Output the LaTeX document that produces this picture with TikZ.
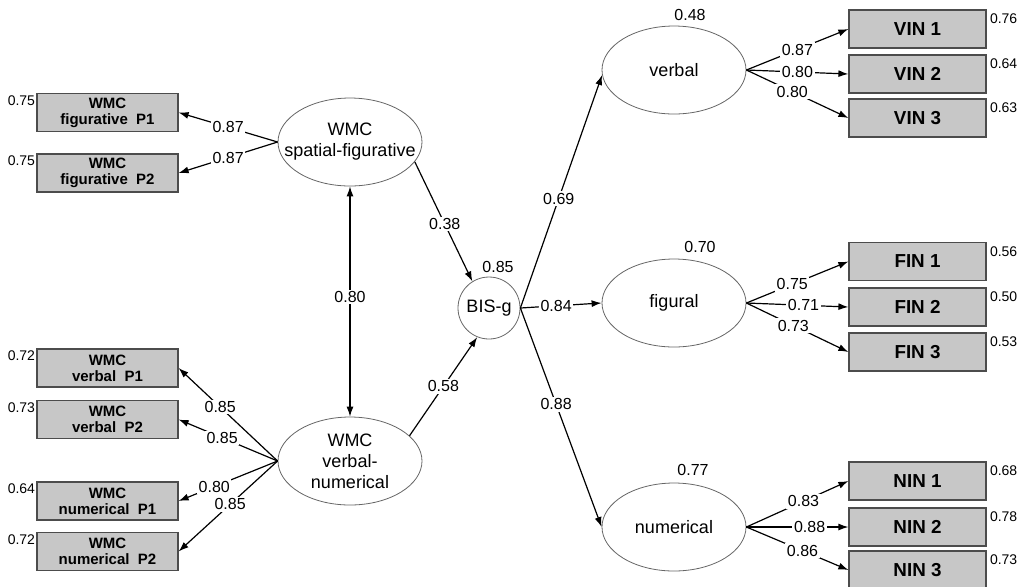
\documentclass[tikz,border=0pt]{standalone}
\usepackage{fontspec}
\setmainfont{Liberation Sans}
\usetikzlibrary{arrows.meta,shapes.geometric,positioning}

\tikzset{
  obs/.style={draw=black!70, fill=black!22, line width=0.6pt, inner sep=0pt,
    minimum width=70.5pt, minimum height=19pt, align=center},
  wmcbox/.style={obs, font=\fontsize{7.5}{8}\selectfont\bfseries},
  inbox/.style={obs, minimum width=68.5pt, font=\fontsize{9.4}{10}\selectfont\bfseries},
  lat/.style={ellipse, draw=black!60, line width=0.4pt, inner xsep=-9pt, inner ysep=-3pt,
    minimum width=72pt, minimum height=44pt, align=center,
    font=\fontsize{9}{10.5}\selectfont},
  coef/.style={fill=white, inner sep=0.8pt, font=\fontsize{8}{9}\selectfont},
  err/.style={inner sep=0pt, font=\fontsize{7}{8}\selectfont},
  load/.style={->, line width=0.6pt},
  >={Latex[length=5pt,width=3.5pt]}
}

\begin{document}
\begin{tikzpicture}[x=0.5pt,y=-0.5pt]
          \useasboundingbox (0,0) rectangle (1029,586);
          % left indicators
          \node[wmcbox] (fp1) at (107.5,112.5) {WMC\\figurative\ \ P1};
          \node[wmcbox] (fp2) at (107.5,173) {WMC\\figurative\ \ P2};
          \node[wmcbox] (vp1) at (107.5,368) {WMC\\verbal\ \ P1};
          \node[wmcbox] (vp2) at (107.5,419.5) {WMC\\verbal\ \ P2};
          \node[wmcbox] (np1) at (107.5,501) {WMC\\numerical\ \ P1};
          \node[wmcbox] (np2) at (107.5,551.5) {WMC\\numerical\ \ P2};
          \foreach \b/\v in {fp1/0.75,fp2/0.75,vp1/0.72,vp2/0.73,np1/0.64,np2/0.72}
            \node[err,anchor=north east] at ([xshift=-0.5pt,yshift=-1pt]\b.north west) {\v};
          % latent factors
          \node[lat] (sf) at (350,142) {WMC\\spatial-figurative};
          \node[lat] (vn) at (350,461) {WMC\\verbal-\\numerical};
          \node[circle, draw=black!60, line width=0.4pt, minimum size=31pt, inner sep=0pt,
            font=\fontsize{9}{10.5}\selectfont] (bis) at (489,308) {BIS-g};
          \node[lat] (verb) at (674,70) {verbal};
          \node[lat] (fig) at (674,303) {figural};
          \node[lat] (num) at (674,527) {numerical};
          \node[coef,fill=none] at (498,267) {0.85};
          \node[coef,fill=none] at (690,15) {0.48};
          \node[coef,fill=none] at (700,247) {0.70};
          \node[coef,fill=none] at (693,470) {0.77};
          % right indicators
          \node[inbox] (vin1) at (917.5,29) {VIN 1};
          \node[inbox] (vin2) at (917.5,74) {VIN 2};
          \node[inbox] (vin3) at (917.5,118) {VIN 3};
          \node[inbox] (fin1) at (917.5,261.5) {FIN 1};
          \node[inbox] (fin2) at (917.5,307) {FIN 2};
          \node[inbox] (fin3) at (917.5,352) {FIN 3};
          \node[inbox] (nin1) at (917.5,481) {NIN 1};
          \node[inbox] (nin2) at (917.5,527) {NIN 2};
          \node[inbox] (nin3) at (917.5,570) {NIN 3};
          \foreach \b/\v in {vin1/0.76,vin2/0.64,vin3/0.63,fin1/0.56,fin2/0.50,fin3/0.53,nin1/0.68,nin2/0.78,nin3/0.73}
            \node[err,anchor=north west] at ([xshift=1.5pt,yshift=-2pt]\b.north east) {\v};
          % loadings
          \draw[load] (sf.west) -- node[coef,pos=0.5] {0.87} (fp1.east);
          \draw[load] (sf.west) -- node[coef,pos=0.5] {0.87} (fp2.east);
          \draw[load] (vn.west) -- node[coef,pos=0.58] {0.85} (vp1.east);
          \draw[load] (vn.west) -- node[coef,pos=0.56] {0.85} (vp2.east);
          \draw[load] (vn.west) -- node[coef,pos=0.64] {0.80} (np1.east);
          \draw[load] (vn.west) -- node[coef,pos=0.48] {0.85} (np2.east);
          \draw[<->, line width=0.6pt] (sf.south) -- node[coef,pos=0.48] {0.80} (vn.north);
          \draw[load] (sf.-17) -- node[coef,pos=0.52] {0.38} (bis.122);
          \draw[load] (vn.23) -- node[coef,pos=0.5] {0.58} (bis.248);
          \draw[load] (bis.east) -- node[coef,pos=0.47] {0.69} (verb.184);
          \draw[load] (bis.east) -- node[coef,pos=0.44] {0.84} (fig.west);
          \draw[load] (bis.east) -- node[coef,pos=0.44] {0.88} (num.west);
          \draw[load] (verb.east) -- node[coef,pos=0.5] {0.87} (vin1.west);
          \draw[load] (verb.east) -- node[coef,pos=0.5] {0.80} (vin2.west);
          \draw[load] (verb.east) -- node[coef,pos=0.45] {0.80} (vin3.west);
          \draw[load] (fig.east) -- node[coef,pos=0.45] {0.75} (fin1.west);
          \draw[load] (fig.east) -- node[coef,pos=0.56] {0.71} (fin2.west);
          \draw[load] (fig.east) -- node[coef,pos=0.46] {0.73} (fin3.west);
          \draw[load] (num.east) -- node[coef,pos=0.56] {0.83} (nin1.west);
          \draw[load] (num.east) -- node[coef,pos=0.62] {0.88} (nin2.west);
          \draw[load] (num.east) -- node[coef,pos=0.55] {0.86} (nin3.west);
        \end{tikzpicture}
\end{document}
